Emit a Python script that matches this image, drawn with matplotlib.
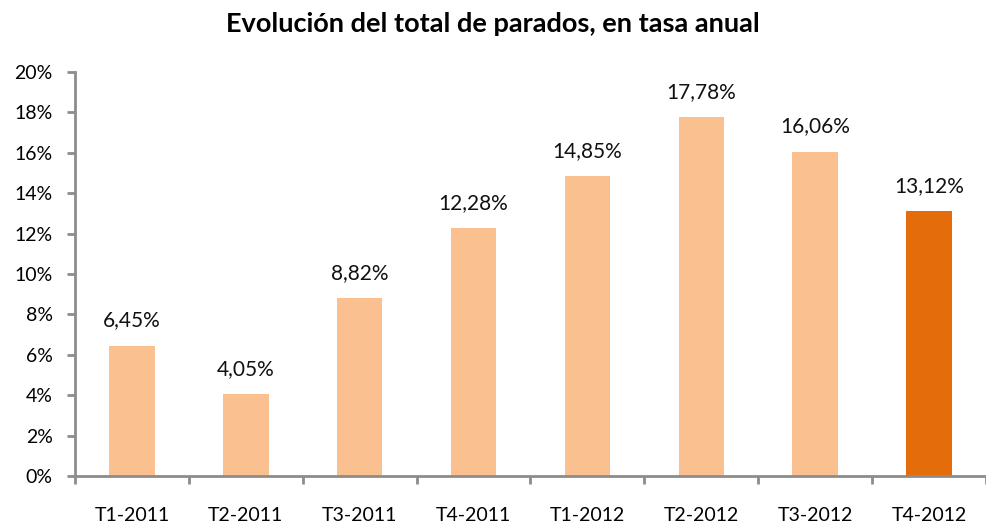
import numpy as np
import matplotlib.pyplot as plt
from matplotlib.ticker import FuncFormatter, MultipleLocator

plt.rcParams['font.family'] = ['Lato', 'DejaVu Sans']

# datos
trimestres = ['T1-2011', 'T2-2011', 'T3-2011', 'T4-2011',
              'T1-2012', 'T2-2012', 'T3-2012', 'T4-2012']
tasas = [6.45, 4.05, 8.82, 12.28, 14.85, 17.78, 16.06, 13.12]
etiquetas = ['6,45%', '4,05%', '8,82%', '12,28%', '14,85%', '17,78%', '16,06%', '13,12%']

color_claro = '#FAC090'
color_oscuro = '#E46C0A'
colores = [color_claro] * 7 + [color_oscuro]
gris = '#8C8C8C'

fig = plt.figure(figsize=(9.86, 5.24), dpi=100)
ax = fig.add_axes([0.076, 0.0916, 0.924, 0.771])

x = np.arange(len(trimestres))
ax.bar(x, tasas, width=0.4, color=colores)

for xi, v, t in zip(x, tasas, etiquetas):
    ax.text(xi, v + 0.75, t, ha='center', va='bottom', fontsize=15, color='#111111')

ax.set_xlim(-0.5, len(trimestres) - 0.5)
ax.set_ylim(0, 20)
ax.yaxis.set_major_locator(MultipleLocator(2))
ax.yaxis.set_major_formatter(FuncFormatter(lambda v, p: f'{v:.0f}%'))

ax.set_xticks(x)
ax.set_xticklabels(trimestres)
ax.set_xticks(np.arange(-0.5, len(trimestres)), minor=True)
ax.tick_params(axis='x', which='major', length=0, pad=22, labelsize=14)
ax.tick_params(axis='x', which='minor', length=6, width=2, color=gris, direction='out')
ax.tick_params(axis='y', length=6, width=2, color=gris, labelsize=14, pad=10)

for s in ['top', 'right']:
    ax.spines[s].set_visible(False)
for s in ['left', 'bottom']:
    ax.spines[s].set_color(gris)
    ax.spines[s].set_linewidth(2)

fig.text(0.5, 0.978, 'Evolución del total de parados, en tasa anual',
         ha='center', va='top', fontsize=19.5, fontweight='bold')

fig.savefig('out.png', dpi=100)
plt.close(fig)
